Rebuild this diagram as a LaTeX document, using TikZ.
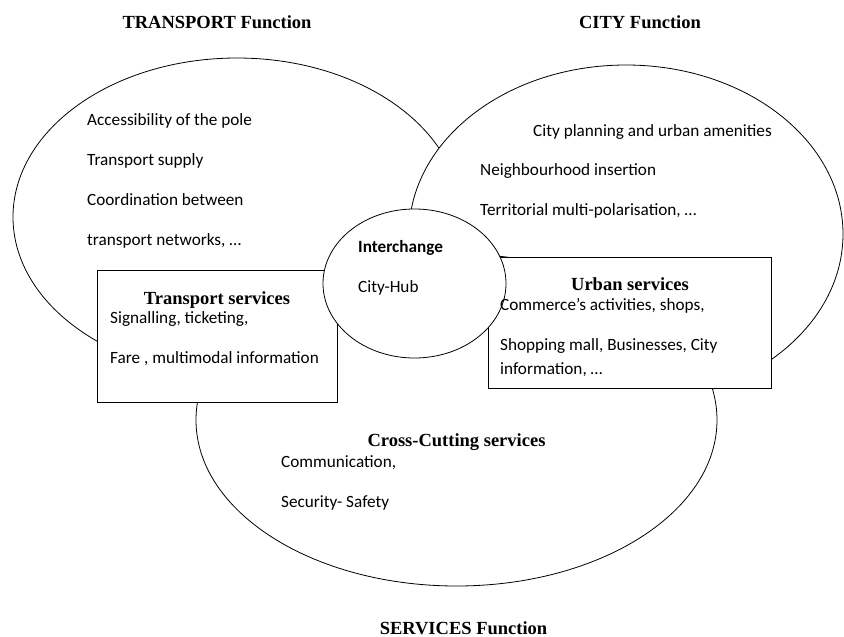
\documentclass[tikz,border=0pt]{standalone}
\usepackage{fontspec}
\setmainfont{Liberation Serif}
\newfontfamily\calib{Carlito}
\usetikzlibrary{shapes.geometric}
\begin{document}
\begin{tikzpicture}[x=1pt,y=-1pt,
  area/.style={ellipse, draw, fill=white, line width=0.8pt, inner sep=0pt},
  svcbox/.style={rectangle, draw, fill=white, line width=0.8pt, inner sep=0pt},
  title/.style={font=\fontsize{18.5}{20}\selectfont\bfseries, anchor=base, inner sep=0pt},
  item/.style={font=\calib\fontsize{17.2}{19}\selectfont, anchor=base west, inner sep=0pt},
  itembold/.style={font=\calib\bfseries\fontsize{17.2}{19}\selectfont, anchor=base west, inner sep=0pt}]
\useasboundingbox (0,0) rectangle (844,637);
% large areas
\node[area, minimum width=448pt, minimum height=318pt] (transport) at (237,217) {};
\node[area, minimum width=434pt, minimum height=338pt] (city) at (626,234) {};
\node[area, minimum width=521pt, minimum height=332pt] (services) at (456.5,420) {};
% service boxes
\node[svcbox, minimum width=240pt, minimum height=132pt] (tbox) at (217,336) {};
\node[svcbox, minimum width=283pt, minimum height=131pt] (ubox) at (629.5,322.5) {};
% interchange
\node[area, minimum width=183pt, minimum height=149pt] (hub) at (414.5,283.5) {};
% titles
\node[title] (ttitle) at (217,28) {TRANSPORT Function};
\node[title] (ctitle) at (640,28) {CITY Function};
\node[title] (stitle) at (463.5,634.5) {SERVICES Function};
\node[title] (thead) at (217,304) {Transport services};
\node[title] (uhead) at (630,290) {Urban services};
\node[title] (shead) at (456.5,446) {Cross-Cutting services};
% transport items
\node[item] (t1) at (87,125) {Accessibility of the pole};
\node[item] (t2) at (87,165) {Transport supply};
\node[item] (t3) at (87,205) {Coordination between};
\node[item] (t4) at (87,245) {transport networks, …};
% city items
\node[item] (c1) at (533,136) {City planning and urban amenities};
\node[item] (c2) at (480,175) {Neighbourhood insertion};
\node[item] (c3) at (480,215) {Territorial multi-polarisation, …};
% transport services
\node[item] (ts1) at (110,323) {Signalling, ticketing,};
\node[item] (ts2) at (110,363) {Fare , multimodal information};
% urban services
\node[item] (us1) at (500,310) {Commerce’s activities, shops,};
\node[item] (us2) at (500,350) {Shopping mall, Businesses, City};
\node[item] (us3) at (500,374) {information, …};
% cross-cutting
\node[item] (cs1) at (281,467) {Communication,};
\node[item] (cs2) at (281,507) {Security- Safety};
% interchange
\node[itembold] (h1) at (358,252) {Interchange};
\node[item] (h2) at (358,292) {City-Hub};
\end{tikzpicture}
\end{document}
